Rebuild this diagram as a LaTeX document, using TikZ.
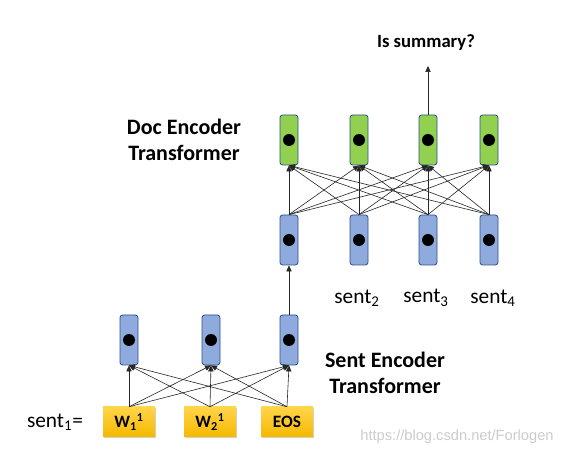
\documentclass[tikz,border=0pt]{standalone}
\usepackage{fontspec}
\setmainfont{Carlito}
\newfontfamily\wmfont{Liberation Sans}
\usetikzlibrary{arrows.meta,shadows}
\definecolor{gfill}{HTML}{92D050}
\definecolor{bfill}{HTML}{8FAADC}
\definecolor{bdraw}{HTML}{2F528F}
\definecolor{ytop}{HTML}{FFD54A}
\definecolor{ybot}{HTML}{F5B800}
\begin{document}
\begin{tikzpicture}[x=0.75pt,y=-0.75pt,
  vec/.style={draw=bdraw,line width=0.6pt,rounded corners=2pt,minimum width=13.5pt,minimum height=37.5pt,inner sep=0pt},
  gvec/.style={vec,fill=gfill},
  bvec/.style={vec,fill=bfill},
  word/.style={fill=ybot,top color=ytop,bottom color=ybot,minimum width=39pt,minimum height=22.5pt,inner sep=0pt,
     font=\bfseries\fontsize{13}{14}\selectfont,drop shadow={shadow xshift=1pt,shadow yshift=-1pt,opacity=0.35}},
  dot/.style={circle,fill=black,minimum size=9pt,inner sep=0pt},
  conn/.style={-{Triangle[width=4pt,length=4.5pt]},line width=0.45pt,draw=black!85},
  lbl/.style={font=\fontsize{16}{18}\selectfont},
  blbl/.style={font=\bfseries\fontsize{16.5}{20}\selectfont,align=center}]
\useasboundingbox[fill=white] (0,0) rectangle (569,456);

% bottom (sentence encoder)
\foreach \n/\x in {1/129,2/211,3/289}{
  \node[bvec] (s\n) at (\x,340) {};
  \node[dot] at (s\n) {};
}
\node[word] (w1) at (129,422) {W\textsubscript{1}\textsuperscript{1}};
\node[word] (w2) at (210,422) {W\textsubscript{2}\textsuperscript{1}};
\node[word] (w3) at (287,422) {EOS};
\node[lbl] (sent1) at (55,422) {sent\textsubscript{1}=};

\foreach \a in {1,2,3}{
  \foreach \b in {1,2,3}{
    \draw[conn] (w\a.north) -- (s\b.south);
  }
}

% doc encoder
\foreach \n/\x in {1/289,2/359,3/428,4/489}{
  \node[bvec] (d\n) at (\x,240) {};
  \node[dot] at (d\n) {};
  \node[gvec] (g\n) at (\x,140) {};
  \node[dot] at (g\n) {};
}
\foreach \a in {1,2,3,4}{
  \foreach \b in {1,2,3,4}{
    \draw[conn] (d\a.north) -- (g\b.south);
  }
}
\draw[conn] (s3.north) -- (d1.south);

\coordinate (top) at (428,66);
\draw[conn] (g3.north) -- (top);
\node[font=\bfseries\fontsize{14}{16}\selectfont] (issum) at (426,43) {Is summary?};

\node[lbl] (sent2) at (357,298) {sent\textsubscript{2}};
\node[lbl] (sent3) at (426,298) {sent\textsubscript{3}};
\node[lbl] (sent4) at (493,298) {sent\textsubscript{4}};

\node[blbl] (doc) at (184,140) {Doc Encoder\\Transformer};
\node[blbl] (sentenc) at (385,373) {Sent Encoder\\Transformer};

\node[font=\wmfont\fontsize{11}{12}\selectfont,text=black!20] (wm) at (457,437) {https://blog.csdn.net/Forlogen};
\end{tikzpicture}
\end{document}
